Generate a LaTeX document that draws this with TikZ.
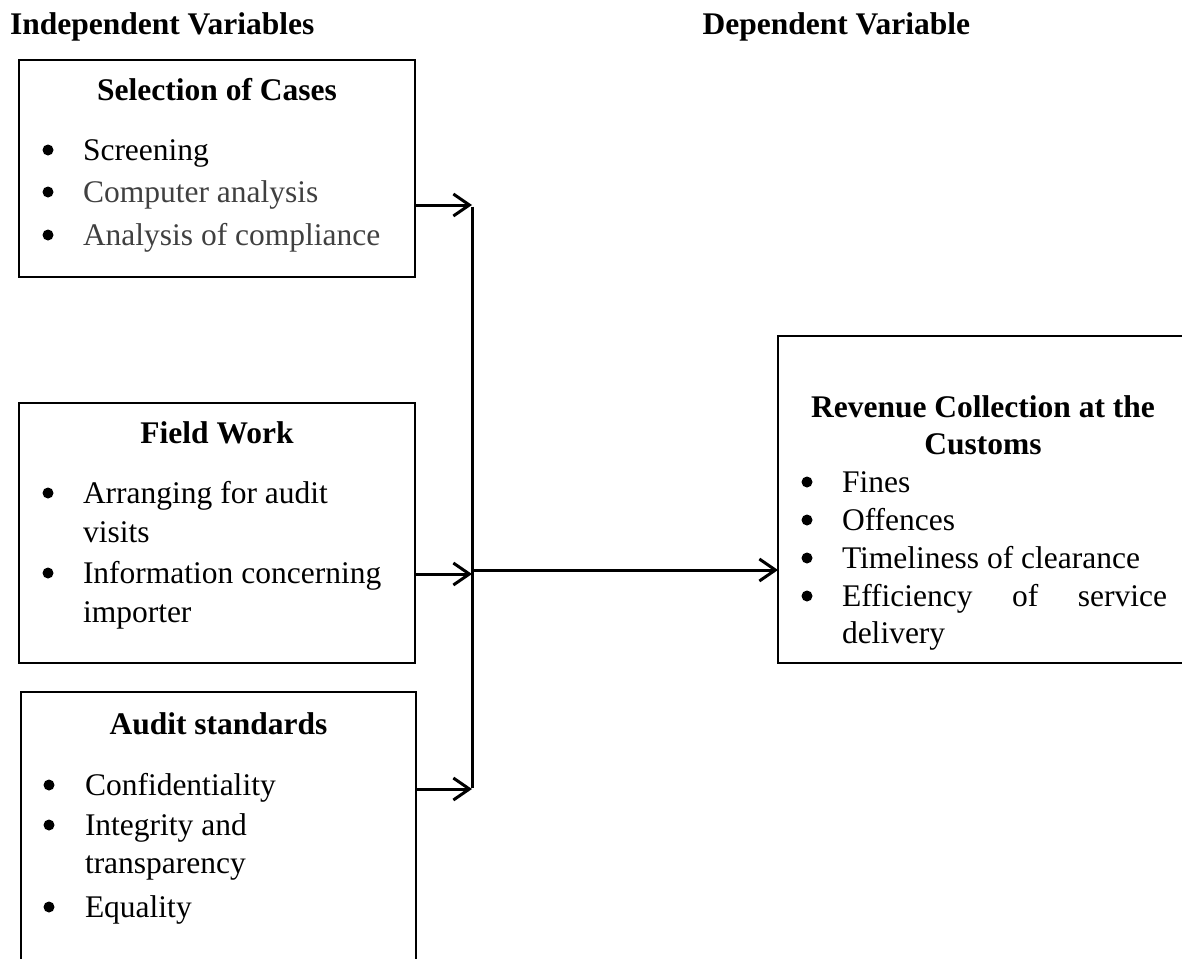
\documentclass[tikz,border=0pt]{standalone}
\usepackage{fontspec}
\setmainfont{Liberation Serif}
\usetikzlibrary{arrows.meta}
\definecolor{greytext}{HTML}{404040}
\tikzset{
  boxframe/.style={draw, line width=2pt, inner sep=0pt, outer sep=0pt, anchor=north west},
  conn/.style={line width=3pt},
  arr/.style={conn, -{Straight Barb[length=16pt,width=22pt,line width=3pt]}},
  txt/.style={inner sep=0pt, outer sep=0pt, font=\fontsize{31.5}{38}\selectfont, anchor=base west},
  ttl/.style={txt, font=\fontsize{31.5}{38}\selectfont\bfseries, anchor=base},
  bul/.style={circle, fill=black, inner sep=0pt, minimum size=11pt},
}
\newcommand{\li}[6][black]{%
  \node[bul] (#2b) at (#3,#5-10) {};
  \node[txt, text=#1] (#2) at (#4,#5) {#6};
}
\begin{document}
\begin{tikzpicture}[x=1pt,y=-1pt]
\useasboundingbox (0,0) rectangle (1182,958);
\clip (0,0) rectangle (1182,958);

% headings
\node[txt, font=\fontsize{31.5}{38}\selectfont\bfseries] (hind) at (10,35) {Independent Variables};
\node[txt, font=\fontsize{31.5}{38}\selectfont\bfseries, anchor=base east] (hdep) at (970,35) {Dependent Variable};

% box 1
\node[boxframe, minimum width=396pt, minimum height=217pt] (b1) at (19,60) {};
\node[ttl] (t1) at (217,100) {Selection of Cases};
\li{a1}{48}{83}{160}{Screening}
\li[greytext]{a2}{48}{83}{202}{Computer analysis}
\li[greytext]{a3}{48}{83}{245}{Analysis of compliance}

% box 2
\node[boxframe, minimum width=396pt, minimum height=260pt] (b2) at (19,403) {};
\node[ttl] (t2) at (217,443) {Field Work};
\li{c1}{48}{83}{503}{Arranging for audit}
\node[txt] (c1b2) at (83,542) {visits};
\li{c2}{48}{83}{583}{Information concerning}
\node[txt] (c2b2) at (83,622) {importer};

% box 3
\node[boxframe, minimum width=395pt, minimum height=320pt] (b3) at (21,692) {};
\node[ttl] (t3) at (218.5,734) {Audit standards};
\li{d1}{49}{85}{795}{Confidentiality}
\li{d2}{49}{85}{835}{Integrity and}
\node[txt] (d2b2) at (85,873) {transparency};
\li{d3}{49}{85}{917}{Equality}

% box 4
\node[boxframe, minimum width=410pt, minimum height=327pt] (b4) at (778,336) {};
\node[ttl] (t4) at (983,417) {Revenue Collection at the};
\node[ttl] (t4b) at (983,454) {Customs};
\li{e1}{807}{842}{492}{Fines}
\li{e2}{807}{842}{530}{Offences}
\li{e3}{807}{842}{568}{Timeliness of clearance}
\li{e4}{807}{842}{606}{\makebox[325pt][s]{Efficiency\hfill of\hfill service}}
\node[txt] (e4b2) at (842,643) {delivery};

% connectors
\coordinate (j1) at (472,205);
\coordinate (j2) at (472,574);
\coordinate (j3) at (472,789);
\coordinate (jout) at (472,570);
\draw[arr] (b1.east |- j1) -- (j1);
\draw[arr] (b2.east |- j2) -- (j2);
\draw[arr] (b3.east |- j3) -- (j3);
\draw[conn] ([yshift=-1.5pt]j1) -- ([yshift=1.5pt]j3);
\draw[arr] (jout) -- (b4.west |- jout);
\end{tikzpicture}
\end{document}
